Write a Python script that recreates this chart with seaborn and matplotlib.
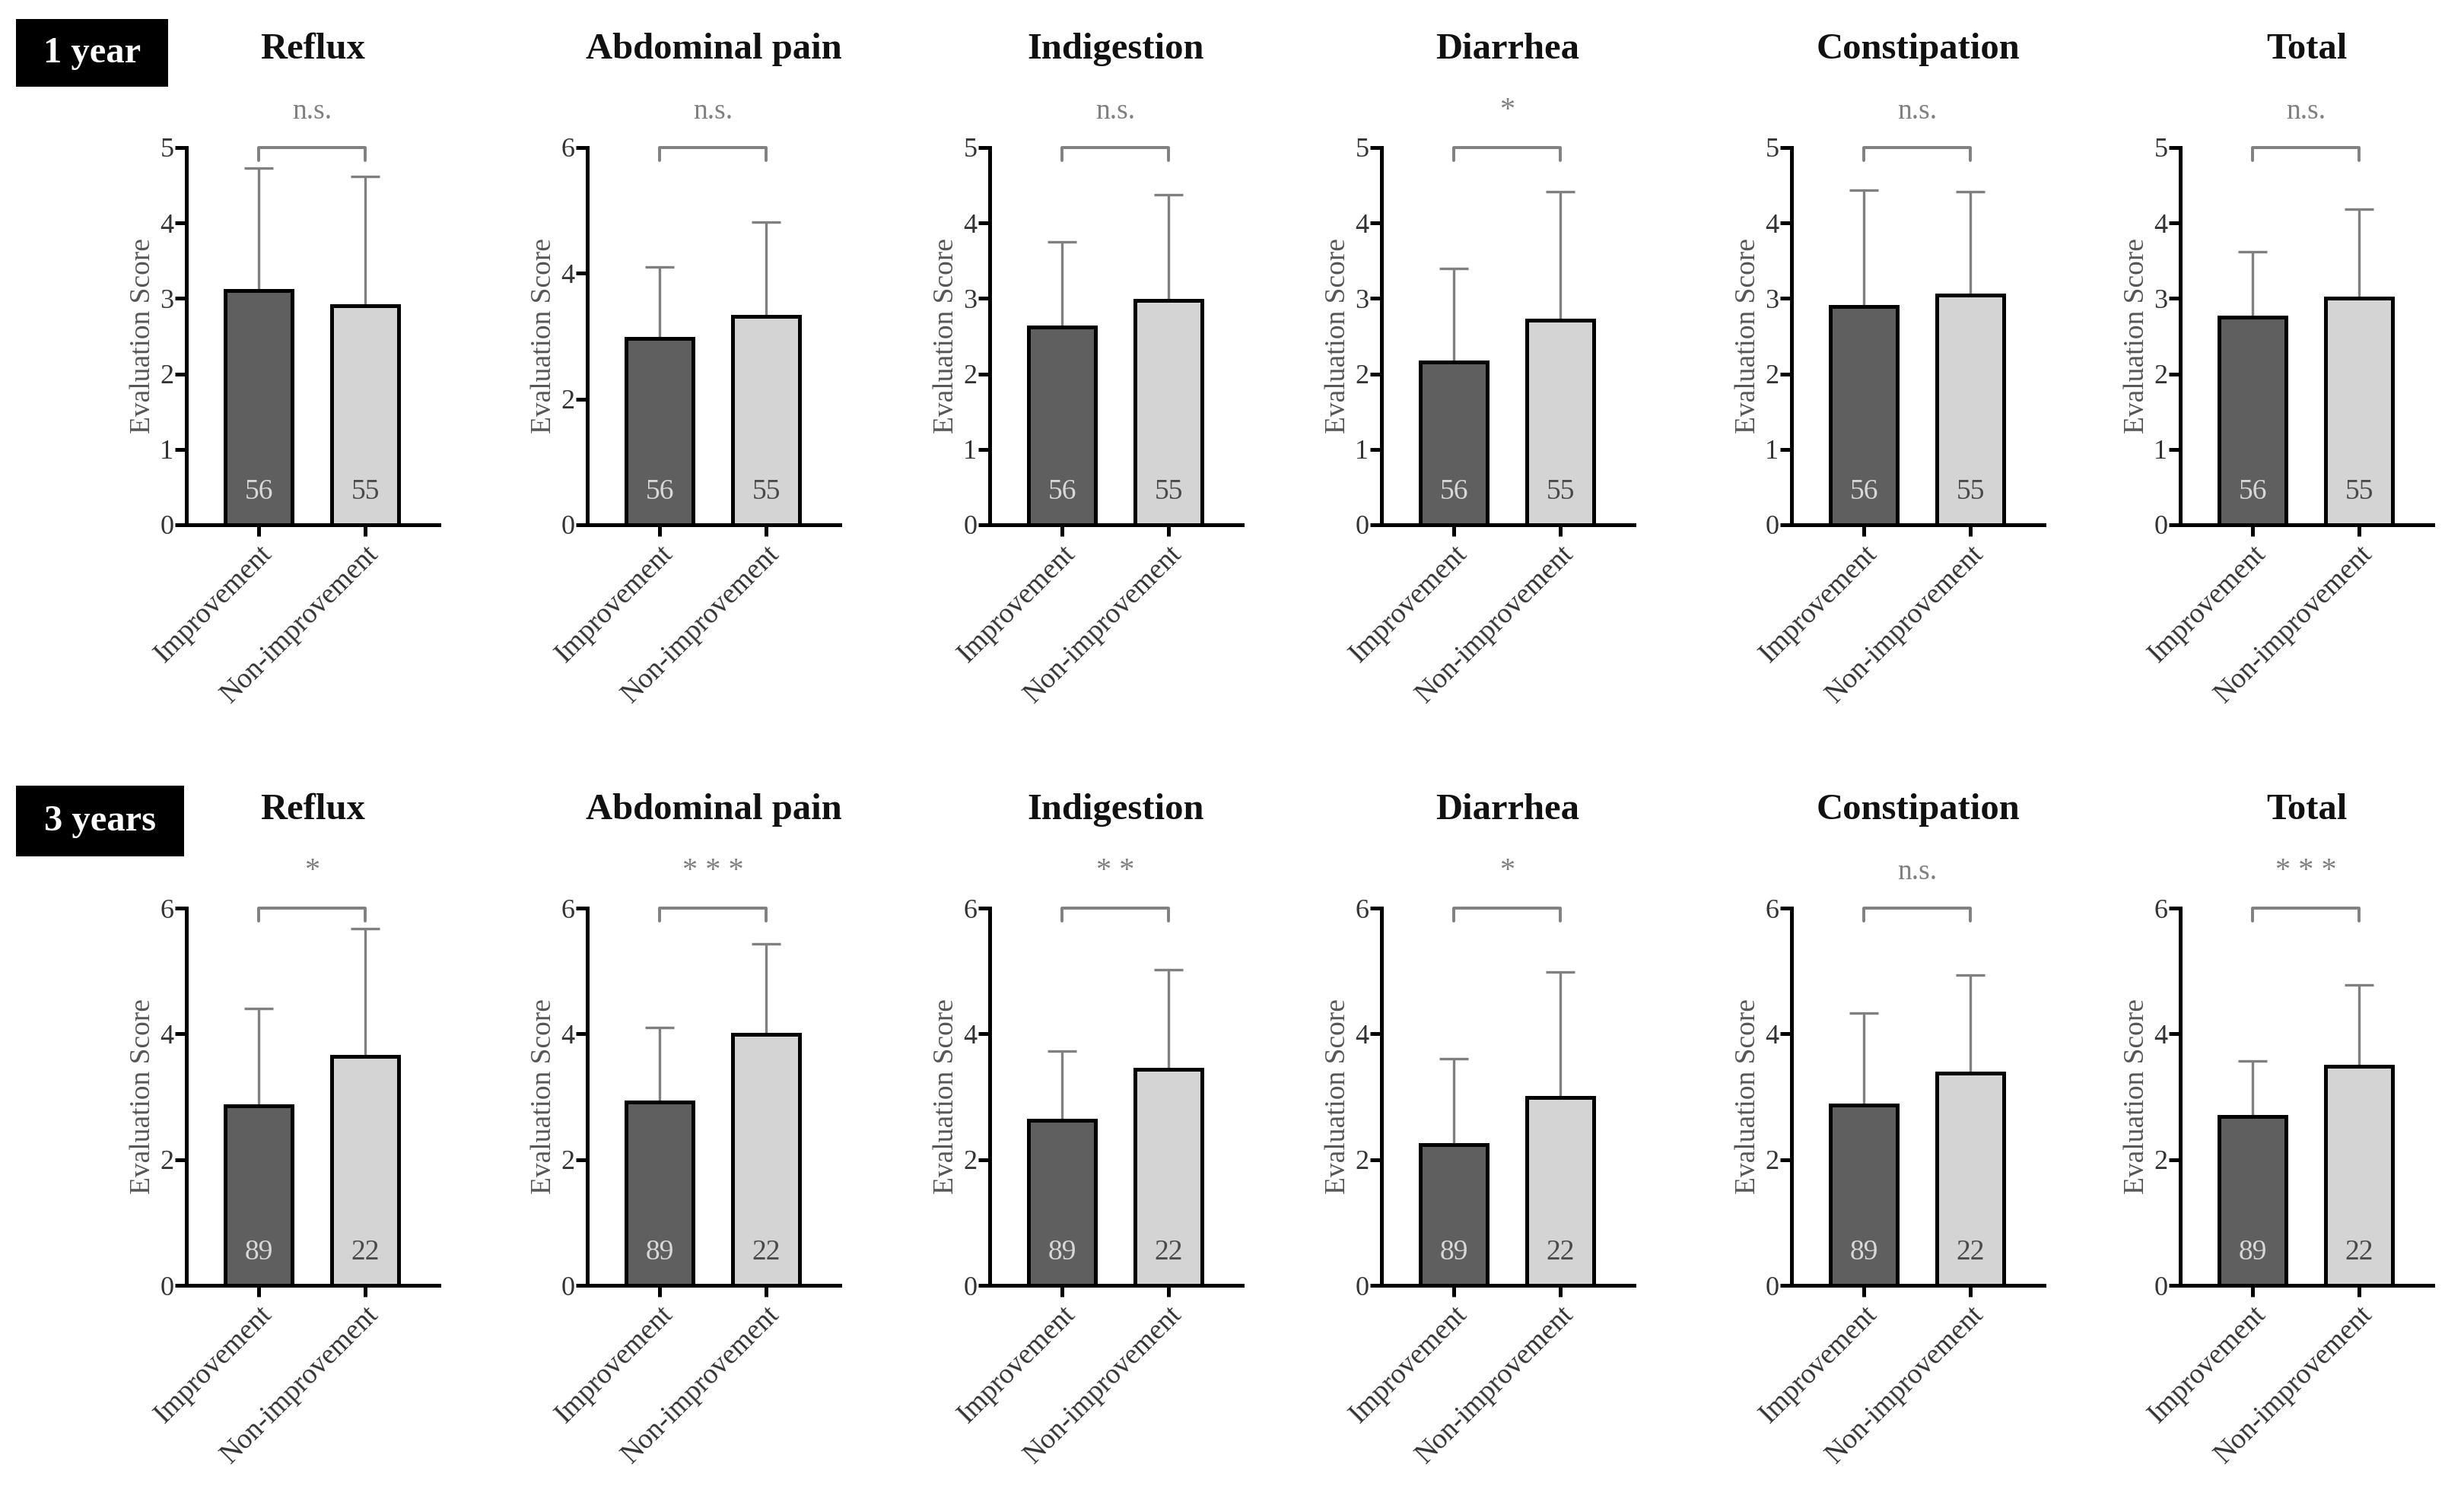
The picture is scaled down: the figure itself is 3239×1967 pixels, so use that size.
import matplotlib.pyplot as plt
import seaborn as sns
import pandas as pd
from matplotlib.patches import Rectangle
from matplotlib.transforms import blended_transform_factory

# %% data
symptoms = ["Reflux", "Abdominal pain", "Indigestion", "Diarrhea", "Constipation", "Total"]
groups = ["Improvement", "Non-improvement"]

n_1y = [56, 55]
impr_mean_1y = [3.10, 2.96, 2.62, 2.16, 2.89, 2.75]
impr_sd_1y = [1.63, 1.14, 1.13, 1.24, 1.55, 0.87]
non_mean_1y = [2.90, 3.32, 2.97, 2.71, 3.04, 3.00]
non_sd_1y = [1.72, 1.49, 1.40, 1.71, 1.38, 1.18]
ymax_1y = [5, 6, 5, 5, 5, 5]
sig_1y = ["n.s.", "n.s.", "n.s.", "*", "n.s.", "n.s."]

n_3y = [89, 22]
impr_mean_3y = [2.86, 2.92, 2.62, 2.24, 2.87, 2.69]
impr_sd_3y = [1.54, 1.18, 1.11, 1.36, 1.46, 0.88]
non_mean_3y = [3.64, 3.99, 3.44, 2.99, 3.37, 3.48]
non_sd_3y = [2.03, 1.44, 1.58, 1.99, 1.56, 1.30]
ymax_3y = [6, 6, 6, 6, 6, 6]
sig_3y = ["*", "* * *", "* *", "*", "n.s.", "* * *"]

bar_colors = ["#5f5f5f", "#d4d4d4"]
count_colors = ["#d8d8d8", "#4a4a4a"]

sns.set_theme(style="ticks")
plt.rcParams['font.family'] = ['Liberation Serif', 'DejaVu Serif']

W, H = 3239, 1967
fig = plt.figure(figsize=(W / 100, H / 100), dpi=100)

lefts = [245, 772, 1301, 1816, 2355, 2866]
ax_w = 332
ax_h = 496
row_bottoms = [690, 1690]


def draw_panel(ax, means, sds, counts, ymax, sig, title):
    df = pd.DataFrame({"group": groups, "score": means})
    sns.barplot(data=df, x="group", y="score", hue="group", palette=bar_colors,
                edgecolor="black", linewidth=3.6, width=0.63, legend=False,
                ax=ax, zorder=3)
    # upper error bars only, lower half hidden behind the bar
    ax.errorbar([0, 1], means, yerr=[[0, 0], sds], fmt="none", ecolor="#808080",
                elinewidth=2.4, capsize=14, capthick=2.4, zorder=2)
    ax.set_xlim(-0.68, 1.69)
    ax.set_ylim(0, ymax)
    ax.set_yticks(range(0, ymax + 1, 1 if ymax == 5 else 2))
    ax.set_xlabel("")
    ax.set_ylabel("Evaluation Score", fontsize=27, color="#555555", labelpad=4)
    sns.despine(ax=ax)
    for s in ["left", "bottom"]:
        ax.spines[s].set_linewidth(3.6)
        ax.spines[s].set_color("black")
    ax.tick_params(axis="both", length=11, width=3.6, color="black")
    ax.tick_params(axis="y", labelsize=26, labelcolor="#333333", pad=1)
    ax.tick_params(axis="x", labelsize=27, labelcolor="#333333", pad=4)
    plt.setp(ax.get_xticklabels(), rotation=45, ha="right", rotation_mode="anchor")

    tr = blended_transform_factory(ax.transData, ax.transAxes)
    for i, n in enumerate(counts):
        ax.text(i, 0.087, str(n), transform=tr, ha="center", va="center",
                fontsize=27, color=count_colors[i], zorder=4)
    # significance bracket
    ax.plot([0, 0, 1, 1], [0.965, 1.0, 1.0, 0.965], transform=tr, color="#808080",
            lw=2.8, clip_on=False)
    ax.text(0.5, 1.06, sig, transform=tr, ha="center", va="bottom",
            fontsize=27 if sig == "n.s." else 29, color="#808080")
    ax.text(0.5, 1.26, title, transform=ax.transAxes, ha="center", va="center",
            fontsize=35, fontweight="bold", color="#111111")


rows = [
    (impr_mean_1y, impr_sd_1y, non_mean_1y, non_sd_1y, n_1y, ymax_1y, sig_1y),
    (impr_mean_3y, impr_sd_3y, non_mean_3y, non_sd_3y, n_3y, ymax_3y, sig_3y),
]

for r, (im, isd, nm, nsd, cnt, ymx, sg) in enumerate(rows):
    for j, sym in enumerate(symptoms):
        ax = fig.add_axes([lefts[j] / W, 1 - row_bottoms[r] / H, ax_w / W, ax_h / H])
        draw_panel(ax, [im[j], nm[j]], [isd[j], nsd[j]], cnt, ymx[j], sg[j], sym)

# period labels in black boxes
for label, (x0, y0, bw, bh) in [("1 year", (21, 25, 200, 89)), ("3 years", (21, 1033, 221, 93))]:
    fig.patches.append(Rectangle((x0 / W, 1 - (y0 + bh) / H), bw / W, bh / H,
                                 transform=fig.transFigure, facecolor="black",
                                 edgecolor="none"))
    fig.text((x0 + bw / 2) / W, 1 - (y0 + bh / 2) / H, label, ha="center", va="center",
             color="white", fontsize=35, fontweight="bold")

fig.savefig("out.png", dpi=100, facecolor="white")
